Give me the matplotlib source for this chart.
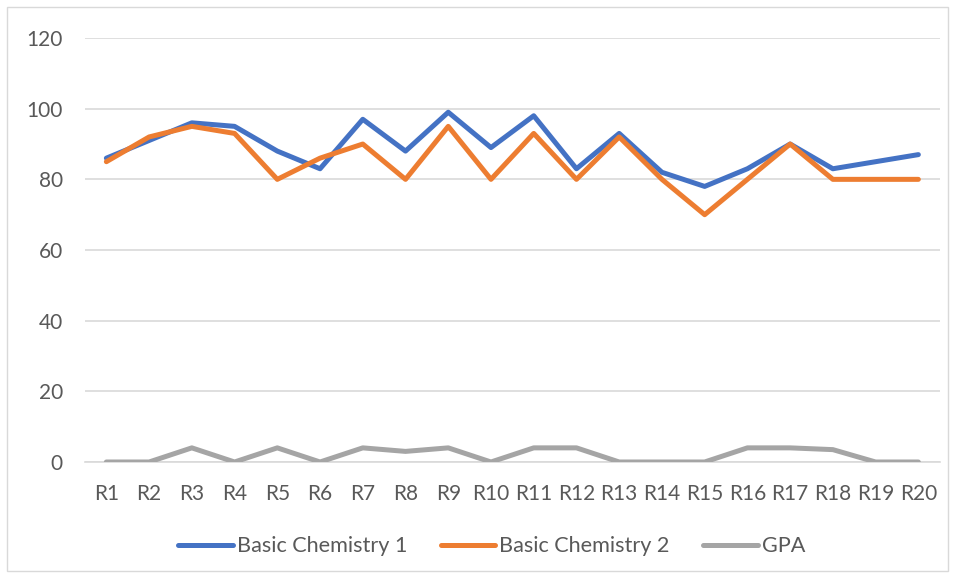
"""
成绩折线图
"""

import matplotlib
matplotlib.use("Agg")
import matplotlib.pyplot as plt
from matplotlib.patches import Rectangle

plt.rcParams['font.family'] = ['Lato', 'DejaVu Sans']

# 数据
labels = ['R%d' % i for i in range(1, 21)]
chem1 = [86, 91, 96, 95, 88, 83, 97, 88, 99, 89, 98, 83, 93, 82, 78, 83, 90, 83, 85, 87]
chem2 = [85, 92, 95, 93, 80, 86, 90, 80, 95, 80, 93, 80, 92, 80, 70, 80, 90, 80, 80, 80]
gpa = [0, 0, 4, 0, 4, 0, 4, 3, 4, 0, 4, 4, 0, 0, 0, 4, 4, 3.5, 0, 0]
yticks = [0, 20, 40, 60, 80, 100, 120]

fig = plt.figure(figsize=(9.55, 5.78), dpi=100)
ax = fig.add_axes([0.089, 0.2007, 0.895, 0.7335])

# 外框
fig.patches.append(Rectangle((0.007, 0.012), 0.986, 0.976, transform=fig.transFigure,
                             fill=False, edgecolor='#d9d9d9', linewidth=1.0))

x = range(len(labels))
lw = 3.6
ax.plot(x, chem1, color='#4472C4', lw=lw, solid_capstyle='round', solid_joinstyle='round',
        label='Basic Chemistry 1', zorder=3)
ax.plot(x, chem2, color='#ED7D31', lw=lw, solid_capstyle='round', solid_joinstyle='round',
        label='Basic Chemistry 2', zorder=3)
ax.plot(x, gpa, color='#A5A5A5', lw=lw, solid_capstyle='round', solid_joinstyle='round',
        label='GPA', zorder=3)

ax.set_xlim(-0.5, len(labels) - 0.5)
ax.set_ylim(0, 120)
ax.set_yticks(yticks)
ax.set_xticks(list(x))
ax.set_xticklabels(labels)
ax.grid(axis='y', color='#d9d9d9', linewidth=1.2)
ax.set_axisbelow(True)
for s in ['top', 'right', 'left']:
    ax.spines[s].set_visible(False)
ax.spines['bottom'].set_color('#d9d9d9')
ax.spines['bottom'].set_linewidth(1.2)
ax.tick_params(axis='both', length=0, labelsize=15, colors='#595959')
ax.tick_params(axis='y', pad=16)
ax.tick_params(axis='x', pad=16)

leg = fig.legend(loc='center', bbox_to_anchor=(0.515, 0.055), ncol=3, frameon=False,
                 fontsize=15.6, handlelength=2.5, handletextpad=0.2, columnspacing=1.55)
for t in leg.get_texts():
    t.set_color('#595959')

fig.savefig('out.png', dpi=100)
